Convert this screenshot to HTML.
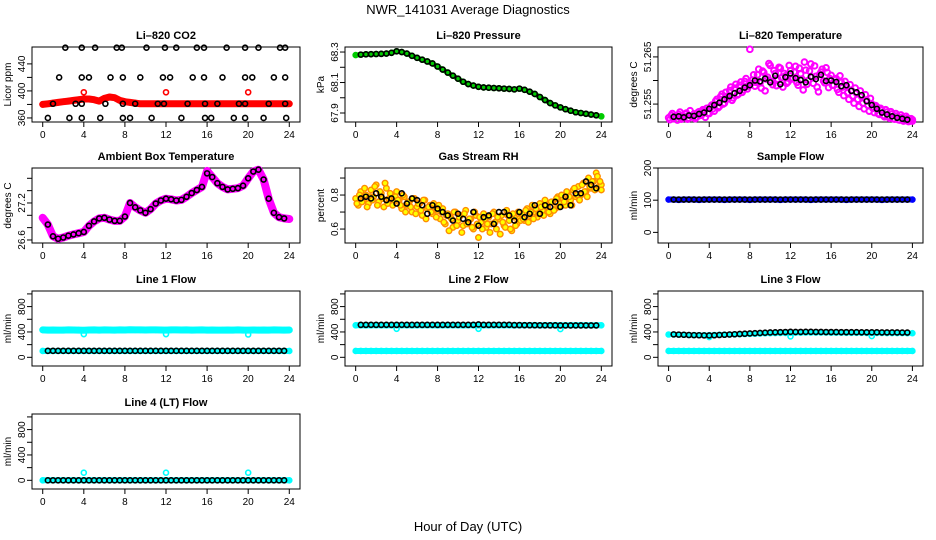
<!DOCTYPE html>
<html><head><meta charset="utf-8"><style>
html,body{margin:0;padding:0;background:#fff;}
svg{display:block;font-family:"Liberation Sans",Arial,sans-serif;}
</style></head><body>
<svg id="chart" width="936" height="540" viewBox="0 0 936 540" xmlns="http://www.w3.org/2000/svg">
<rect x="0" y="0" width="936" height="540" fill="#fff"/>
<text x="468" y="14" text-anchor="middle" font-size="13">NWR_141031  Average Diagnostics</text>
<text x="468" y="531" text-anchor="middle" font-size="13">Hour of Day (UTC)</text>
</svg>
<script>
// ---------- data ----------
const xTicks = [0,4,8,12,16,20,24];
const co2BlackHours = [2.2,3.8,5.1,7.2,7.7,10.1,11.9,13.0,15.0,15.7,17.9,19.7,21.0,23.1,23.6,
  1.6,3.8,4.5,6.6,7.8,9.5,11.7,12.4,14.6,15.7,17.5,19.7,20.4,22.5,23.6,
  1.0,3.2,3.8,6.1,7.8,9.0,11.2,11.8,14.1,15.8,17.0,19.1,19.7,22.0,23.6,
  0.5,2.6,3.8,5.6,7.8,8.5,10.6,13.5,15.8,16.4,18.6,19.7,21.5,23.7];
const co2BlackVals = [464,464,464,464,464,464,464,464,464,464,464,464,464,464,464,
  420,420,420,420,420,420,420,420,420,420,420,420,420,420,420,
  381,381,381,381,381,381,381,381,381,381,381,381,381,381,381,
  360,360,360,360,360,360,360,360,360,360,360,360,360,360];
const co2Red = [380,381,382,383,384,385,386,387,388,388,387,385,389,391,390,386,384,383,382,381,381,381,381,381,381,381,381,381,381,381,381,381,381,381,381,381,381,381,381,381,381,381,381,381,381,381,381,381,381];
const co2RedOutHours = [4,12,20];
const co2RedOutVals = [398,398,398];
const pressGreen = [68.280,68.283,68.285,68.286,68.287,68.288,68.290,68.295,68.305,68.300,68.290,68.275,68.262,68.250,68.238,68.225,68.205,68.185,68.165,68.145,68.125,68.105,68.090,68.080,68.072,68.068,68.066,68.064,68.062,68.060,68.058,68.055,68.060,68.052,68.040,68.025,68.005,67.985,67.965,67.950,67.937,67.925,67.915,67.905,67.900,67.895,67.890,67.885,67.878];
const tempMagenta = [51.2521,51.2526,51.2519,51.2523,51.2528,51.2518,51.2524,51.2531,51.2520,51.2525,51.2529,51.2522,51.2534,51.2527,51.2536,51.2541,51.2530,
51.2548,51.2535,51.2560,51.2545,51.2571,51.2552,51.2566,51.2579,51.2558,51.2584,51.2569,51.2590,51.2575,51.2598,51.2582,51.2666,
51.2601,51.2588,51.2612,51.2595,51.2620,51.2578,51.2607,51.2632,51.2591,51.2615,51.2603,51.2626,51.2586,51.2610,51.2597,51.2621,
51.2605,51.2630,51.2590,51.2614,51.2580,51.2622,51.2600,51.2635,51.2594,51.2609,51.2576,51.2618,51.2599,51.2627,51.2585,51.2611,
51.2590,51.2604,51.2575,51.2596,51.2568,51.2588,51.2560,51.2579,51.2552,51.2573,51.2545,51.2566,51.2540,51.2558,51.2535,51.2550,
51.2532,51.2544,51.2528,51.2537,51.2523,51.2533,51.2520,51.2529,51.2518,51.2525,51.2516,51.2522,51.2515,51.2520,51.2514,51.2517];
const tempMagenta2 = [51.2517,51.2530,51.2524,51.2516,51.2533,51.2521,51.2529,51.2518,51.2536,51.2523,51.2519,51.2532,51.2526,51.2538,51.2522,51.2530,51.2544,
51.2540,51.2556,51.2542,51.2566,51.2550,51.2575,51.2561,51.2586,51.2563,51.2592,51.2571,51.2597,51.2580,51.2604,51.2588,51.2594,
51.2612,51.2596,51.2624,51.2584,51.2617,51.2603,51.2636,51.2598,51.2621,51.2589,51.2628,51.2606,51.2615,51.2594,51.2632,51.2603,
51.2618,51.2596,51.2626,51.2603,51.2639,51.2592,51.2620,51.2607,51.2631,51.2586,51.2613,51.2624,51.2595,51.2617,51.2604,51.2590,
51.2602,51.2581,51.2610,51.2586,51.2598,51.2574,51.2591,51.2567,51.2584,51.2560,51.2578,51.2552,51.2570,51.2547,51.2562,51.2541,
51.2547,51.2530,51.2541,51.2526,51.2538,51.2524,51.2534,51.2519,51.2530,51.2517,51.2527,51.2514,51.2524,51.2513,51.2519,51.2514];
const tempBlack = [51.2523,51.2524,51.2522,51.2526,51.2525,51.2529,51.2532,51.2540,51.2548,51.2553,51.2560,51.2567,51.2573,51.2578,51.2585,51.2590,51.2600,51.2598,51.2604,51.2596,51.2610,51.2592,51.2607,51.2615,51.2605,51.2601,51.2596,51.2608,51.2603,51.2612,51.2599,51.2600,51.2597,51.2588,51.2590,51.2578,51.2575,51.2569,51.2556,51.2548,51.2540,51.2532,51.2528,51.2524,51.2521,51.2519,51.2517];
const ambMagenta = [26.96,26.85,26.66,26.62,26.64,26.67,26.69,26.71,26.73,26.83,26.90,26.95,26.96,26.93,26.91,26.91,26.98,27.20,27.13,27.08,27.04,27.10,27.19,27.24,27.27,27.26,27.24,27.25,27.30,27.36,27.41,27.46,27.72,27.62,27.52,27.46,27.42,27.43,27.44,27.48,27.60,27.71,27.74,27.58,27.27,27.04,26.97,26.95,26.94];
const ambBlack = [26.85,26.66,26.62,26.64,26.67,26.69,26.71,26.73,26.83,26.90,26.95,26.96,26.93,26.91,26.91,26.98,27.20,27.13,27.08,27.04,27.10,27.19,27.24,27.27,27.26,27.24,27.25,27.30,27.36,27.41,27.46,27.68,27.62,27.52,27.46,27.42,27.43,27.44,27.48,27.60,27.71,27.74,27.58,27.27,27.04,26.97,26.95];
const rhOrange = [.78,.74,.82,.77,.80,.75,.83,.79,.86,.76,.81,.73,.84,.78,.80,.76,.82,
.77,.72,.79,.74,.76,.70,.78,.73,.75,.68,.77,.72,.74,.69,.73,.71,
.66,.72,.63,.69,.67,.61,.70,.65,.68,.62,.71,.64,.66,.60,.68,.55,
.64,.69,.61,.67,.63,.70,.60,.66,.68,.62,.71,.65,.59,.67,.63,.66,
.69,.65,.72,.68,.74,.70,.67,.75,.71,.77,.73,.69,.76,.72,.79,.75,
.78,.74,.81,.77,.83,.79,.85,.80,.87,.82,.90,.84,.88,.93,.85,.86];
const rhOrange2 = [.75,.80,.76,.84,.73,.79,.77,.85,.74,.82,.78,.87,.75,.81,.74,.79,.77,
.74,.80,.70,.76,.73,.78,.69,.75,.71,.77,.66,.73,.70,.75,.67,.74,
.70,.64,.68,.59,.66,.70,.62,.67,.58,.69,.63,.66,.61,.70,.63,.67,
.60,.66,.63,.58,.69,.64,.67,.57,.64,.61,.68,.60,.69,.62,.70,.65,
.66,.71,.64,.70,.66,.72,.69,.73,.68,.74,.70,.76,.71,.78,.73,.80,
.76,.82,.79,.74,.84,.80,.77,.86,.82,.79,.85,.88,.83,.91,.88,.83];
const rhBlack = [.78,.79,.78,.81,.79,.77,.78,.75,.81,.75,.78,.77,.74,.69,.74,.72,.70,.68,.65,.69,.66,.64,.70,.62,.67,.68,.63,.70,.70,.68,.65,.70,.67,.69,.74,.69,.74,.73,.76,.73,.79,.74,.81,.81,.88,.86,.84];
const sampleBlue = [102,102,101,102,102,102,101,102,102,102,102,101,102,102,102,102,101,102,102,102,102,102,101,102,102,102,102,102,101,102,102,102,102,102,102,101,102,102,102,102,102,102,101,102,102,102,102,102,102];
const sampleBlack = [102,102,102,102,102,102,102,102,102,102,102,102,102,102,102,102,102,102,102,102,102,102,102,102,102,102,102,102,102,102,102,102,102,102,102,102,102,102,102,102,102,102,102,102,102,102,102];
const line1CyanHigh = [432,430,431,429,430,432,431,430,428,431,432,430,433,431,430,432,431,434,433,432,431,433,432,431,430,432,433,431,432,430,431,432,430,431,429,430,431,430,432,430,429,431,430,431,430,432,431,430,431];
const line1CyanLow = [100,100,100,100,100,100,100,100,100,100,100,100,100,100,100,100,100,100,100,100,100,100,100,100,100,100,100,100,100,100,100,100,100,100,100,100,100,100,100,100,100,100,100,100,100,100,100,100,100];
const line1DipHours = [4,12,20];
const line1DipVals = [365,365,360];
const line1Black = [102,102,102,102,102,102,102,102,102,102,102,102,102,102,102,102,102,102,102,102,102,102,102,102,102,102,102,102,102,102,102,102,102,102,102,102,102,102,102,102,102,102,102,102,102,102,102];
const line2CyanHigh = [505,505,504,505,506,505,504,505,505,506,505,504,505,505,506,505,504,505,505,506,505,504,505,505,506,505,504,505,505,506,505,504,505,505,506,505,504,505,505,506,505,504,505,505,506,505,504,505,505];
const line2CyanLow = line1CyanLow.slice();
const line2DipHours = [4,12,20];
const line2DipVals = [450,450,445];
const line2Black = [512,512,513,512,512,513,512,512,513,512,512,513,512,512,513,512,512,513,512,512,513,512,512,518,512,512,513,512,512,513,508,508,507,506,506,505,505,504,504,503,503,503,503,503,503,503,503];
const line3CyanMid = [360,360,358,355,352,350,350,348,350,352,355,358,360,362,365,368,370,372,375,378,380,382,384,385,386,388,389,390,390,391,390,390,389,388,388,387,387,386,386,385,385,384,384,383,383,382,382,381,380];
const line3CyanLow = line1CyanLow.slice();
const line3DipHours = [4,12,20];
const line3DipVals = [320,330,335];
const line3Black = [362,358,356,352,350,348,346,345,348,352,356,360,364,368,372,376,380,384,388,392,395,397,399,402,400,401,402,402,401,400,399,399,398,397,397,396,396,395,395,394,394,393,393,392,392,391,391];
const line4Cyan = [0,0,0,0,0,0,0,0,0,0,0,0,0,0,0,0,0,0,0,0,0,0,0,0,0,0,0,0,0,0,0,0,0,0,0,0,0,0,0,0,0,0,0,0,0,0,0,0,0];
const line4PeakHours = [4,12,20];
const line4PeakVals = [120,120,120];
const line4Black = [0,0,0,0,0,0,0,0,0,0,0,0,0,0,0,0,0,0,0,0,0,0,0,0,0,0,0,0,0,0,0,0,0,0,0,0,0,0,0,0,0,0,0,0,0,0,0];
const co2TickVals = [360,380,400,420,440]; const co2TickLabels = ["360","","400","","440"];
const pressTickVals = [67.9,68.0,68.1,68.2,68.3]; const pressTickLabels = ["67.9","","68.1","","68.3"];
const tempTickVals = [51.255,51.26,51.265]; const tempTickLabels = ["51.255","","51.265"];
const ambTickVals = [26.6,26.8,27.0,27.2,27.4,27.6]; const ambTickLabels = ["26.6","","","27.2","",""];
const rhTickVals = [0.6,0.7,0.8,0.9]; const rhTickLabels = ["0.6","","0.8",""];
const sampleTickVals = [0,100,200]; const sampleTickLabels = ["0","100","200"];
const flowTickVals = [0,200,400,600,800,1000]; const flowTickLabels = ["0","","400","","800",""];

// ---------- drawing ----------
const NS = "http://www.w3.org/2000/svg";
const svg = document.getElementById('chart');
const COLS = [{x:32,w:268},{x:345,w:267},{x:658,w:265}];
const ROWS = [47,168,291,414];
const H = 75;
function make(tag, attrs){ const e=document.createElementNS(NS,tag); for(const k in attrs) e.setAttribute(k,attrs[k]); return e; }
function xs(p,t){ return p.x + p.w*0.04 + t/24*p.w*0.92; }
function ys(p,v){ return p.y + H - (v-p.lo)/(p.hi-p.lo)*H; }
function halfHours(n, start){ const a=[]; for(let i=0;i<n;i++) a.push(start+i*0.5); return a; }
function quarterHours(n){ const a=[]; for(let i=0;i<n;i++) a.push(i*24/(n-1)); return a; }

function panel(ci, ri, name, title, ylab, lo, hi, tv, tl){
  const p = {x:COLS[ci].x, w:COLS[ci].w, y:ROWS[ri], lo:lo, hi:hi};
  const g = make('g',{});
  
  
  svg.appendChild(g);
  p.g = g;
  const box = make('rect',{x:p.x,y:p.y,width:p.w,height:H,fill:'none',stroke:'#000','stroke-width':1});
  
  
  g.appendChild(box);
  const tt = make('text',{x:p.x+p.w/2,y:p.y-8,'text-anchor':'middle','font-size':11,'font-weight':'bold'});
  tt.textContent = title;
  
  
  g.appendChild(tt);
  const yl = make('text',{x:0,y:0,'text-anchor':'middle','font-size':10,transform:`translate(${p.x-21},${p.y+H/2}) rotate(-90)`});
  yl.textContent = ylab;
  
  
  g.appendChild(yl);
  const xa = make('line',{x1:xs(p,xTicks[0]),x2:xs(p,xTicks[xTicks.length-1]),y1:p.y+H,y2:p.y+H,stroke:'#000'});
  
  
  g.appendChild(xa);
  xTicks.forEach(t=>{
    const l = make('line',{x1:xs(p,t),x2:xs(p,t),y1:p.y+H,y2:p.y+H+5,stroke:'#000'});
    
    
    g.appendChild(l);
    const s = make('text',{x:xs(p,t),y:p.y+H+16,'text-anchor':'middle','font-size':10});
    s.textContent = String(t);
    
    
    g.appendChild(s);
  });
  const ya = make('line',{x1:p.x,x2:p.x,y1:ys(p,tv[0]),y2:ys(p,tv[tv.length-1]),stroke:'#000'});
  
  
  g.appendChild(ya);
  tv.forEach((v,i)=>{
    const yy = ys(p,v);
    const l = make('line',{x1:p.x-5,x2:p.x,y1:yy,y2:yy,stroke:'#000'});
    
    
    g.appendChild(l);
    if(tl[i]){
      const s = make('text',{x:0,y:0,'text-anchor':'middle','font-size':10,transform:`translate(${p.x-7},${yy}) rotate(-90)`});
      s.textContent = tl[i];
      
      
      g.appendChild(s);
    }
  });
  return p;
}

function points(p, name, hours, vals, color, opts){
  opts = opts || {};
  const g = make('g',{});
  
  
  p.g.appendChild(g);
  if(opts.band){
    const pts = hours.map((t,i)=>xs(p,t).toFixed(1)+','+ys(p,vals[i]).toFixed(1)).join(' ');
    const pl = make('polyline',{points:pts,fill:'none',stroke:color,'stroke-width':opts.band,'stroke-linecap':'round','stroke-linejoin':'round'});
    
    
    g.appendChild(pl);
  }
  hours.forEach((t,i)=>{
    const c = make('circle',{cx:xs(p,t),cy:ys(p,vals[i]),r:opts.r||2.5,fill:opts.fill||'none',stroke:color,'stroke-width':opts.sw||1.6});
    
    
    g.appendChild(c);
  });
}

const H49 = quarterHours(49);
const H97 = quarterHours(97);
const H97b = H97.map(t=>Math.min(24, t+0.12));
const HB = halfHours(47, 0.5);

let p = panel(0,0,'co2','Li\u2013820 CO2','Licor ppm',354,465,co2TickVals,co2TickLabels);
points(p,'co2-red-series',H49,co2Red,'#ff0000',{band:7});
points(p,'co2-red-outliers',co2RedOutHours,co2RedOutVals,'#ff0000');
points(p,'co2-black-series',co2BlackHours,co2BlackVals,'#000');

p = panel(1,0,'pressure','Li\u2013820 Pressure','kPa',67.841,68.333,pressTickVals,pressTickLabels);
points(p,'pressure-green-series',H49,pressGreen,'#00cc00',{band:5});
points(p,'pressure-black-series',HB,pressGreen.slice(1,48),'#000');

p = panel(2,0,'li820-temp','Li\u2013820 Temperature','degrees C',51.2512,51.2671,tempTickVals,tempTickLabels);
points(p,'temp-magenta-series',H97,tempMagenta,'#ff00ff',{r:2.8,sw:2});
points(p,'temp-magenta-series-2',H97b,tempMagenta2,'#ff00ff',{r:2.8,sw:2});
points(p,'temp-black-series',HB,tempBlack,'#000');

p = panel(0,1,'ambient','Ambient Box Temperature','degrees C',26.551,27.767,ambTickVals,ambTickLabels);
points(p,'ambient-magenta-series',H49,ambMagenta,'#ff00ff',{band:8});
points(p,'ambient-black-series',HB,ambBlack,'#000');

p = panel(1,1,'gas-rh','Gas Stream RH','percent',0.518,0.959,rhTickVals,rhTickLabels);
points(p,'rh-orange-series',H97,rhOrange,'#ff8c00',{r:2.8,sw:1.4,fill:'#ffff00'});
points(p,'rh-orange-series-2',H97b,rhOrange2,'#ff8c00',{r:2.8,sw:1.4,fill:'#ffff00'});
points(p,'rh-black-series',HB,rhBlack,'#000');

p = panel(2,1,'sample-flow','Sample Flow','ml/min',-33,200,sampleTickVals,sampleTickLabels);
points(p,'sample-blue-series',H49,sampleBlue,'#0000ff',{band:6});
points(p,'sample-black-series',HB,sampleBlack,'#000');

p = panel(0,2,'line1-flow','Line 1 Flow','ml/min',-137,1046,flowTickVals,flowTickLabels);
points(p,'line1-cyan-high',H49,line1CyanHigh,'#00ffff',{band:7});
points(p,'line1-cyan-low',H49,line1CyanLow,'#00ffff',{band:6});
points(p,'line1-cyan-dips',line1DipHours,line1DipVals,'#00ffff');
points(p,'line1-black-series',HB,line1Black,'#000');

p = panel(1,2,'line2-flow','Line 2 Flow','ml/min',-137,1046,flowTickVals,flowTickLabels);
points(p,'line2-cyan-high',H49,line2CyanHigh,'#00ffff',{band:6});
points(p,'line2-cyan-low',H49,line2CyanLow,'#00ffff',{band:6});
points(p,'line2-cyan-dips',line2DipHours,line2DipVals,'#00ffff');
points(p,'line2-black-series',HB,line2Black,'#000');

p = panel(2,2,'line3-flow','Line 3 Flow','ml/min',-137,1046,flowTickVals,flowTickLabels);
points(p,'line3-cyan-low',H49,line3CyanLow,'#00ffff',{band:6});
points(p,'line3-cyan-mid',H49,line3CyanMid,'#00ffff',{band:5});
points(p,'line3-cyan-dips',line3DipHours,line3DipVals,'#00ffff');
points(p,'line3-black-series',HB,line3Black,'#000');

p = panel(0,3,'line4-flow','Line 4 (LT) Flow','ml/min',-137,1046,flowTickVals,flowTickLabels);
points(p,'line4-cyan-series',H49,line4Cyan,'#00ffff',{band:6});
points(p,'line4-cyan-peaks',line4PeakHours,line4PeakVals,'#00ffff');
points(p,'line4-black-series',HB,line4Black,'#000');
</script>
</body></html>
